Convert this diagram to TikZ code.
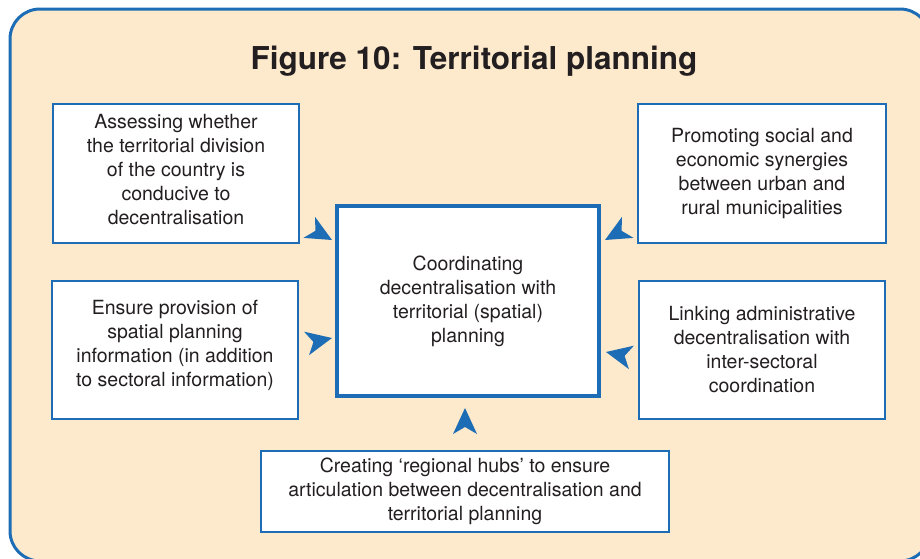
\documentclass[tikz,border=0pt]{standalone}
\usepackage{fontspec}
\setmainfont{TeX Gyre Heros}
\definecolor{frameblue}{HTML}{1C6DB5}
\definecolor{peach}{HTML}{FDE9CC}
\definecolor{ink}{HTML}{231F20}
\tikzset{
  box/.style={draw=frameblue, line width=2.5pt, fill=white, align=center,
    text=ink, font=\fontsize{19.5}{24}\selectfont, inner sep=0pt},
  centerbox/.style={box, line width=4pt},
  tip/.style={fill=frameblue}
}
\newcommand\arrowtip[2]{\fill[tip, shift={#1}, rotate=#2] (0,0) -- (-26,12) -- (-19,0) -- (-26,-12) -- cycle;}
\newcommand\lowstrut[1]{\rule[-#1]{0pt}{#1}}
\begin{document}
\begin{tikzpicture}[x=1pt,y=-1pt]
\useasboundingbox (0,0) rectangle (920,558);
\begin{scope}
\clip (0,0) rectangle (920,558);
\draw[frameblue, fill=peach, line width=3pt, rounded corners=30pt] (10,9) rectangle (930,561);
\end{scope}
\node[anchor=base, text=ink, font=\fontsize{31.5}{36}\selectfont\bfseries] (title) at (474,69) {Figure 10: Territorial planning};

\node[box, minimum width=246pt, minimum height=139pt] (tl) at (176,173.5)
  {Assessing whether\\the territorial division\\of the country is\\conducive to\\decentralisation\lowstrut{8pt}};
\node[box, minimum width=248pt, minimum height=139pt] (tr) at (762,173.5)
  {Promoting social and\\economic synergies\\between urban and\\rural municipalities};
\node[box, minimum width=246pt, minimum height=138pt] (ml) at (175,350)
  {Ensure provision of\\spatial planning\\information (in addition\\to sectoral information)\lowstrut{14pt}};
\node[box, minimum width=246pt, minimum height=138pt] (mr) at (762,350)
  {Linking administrative\\decentralisation with\\inter-sectoral\\coordination};
\node[centerbox, minimum width=262pt, minimum height=190pt] (center) at (468,301)
  {Coordinating\\decentralisation with\\territorial (spatial)\\planning};
\node[box, minimum width=408pt, minimum height=81pt] (bottom) at (465,491.5)
  {Creating ‘regional hubs’ to ensure\\articulation between decentralisation and\\territorial planning};

\arrowtip{(332,240)}{-29}
\arrowtip{(605,240)}{209}
\arrowtip{(332,338)}{12}
\arrowtip{(606,352)}{168}
\arrowtip{(465,408)}{90}
\end{tikzpicture}
\end{document}
